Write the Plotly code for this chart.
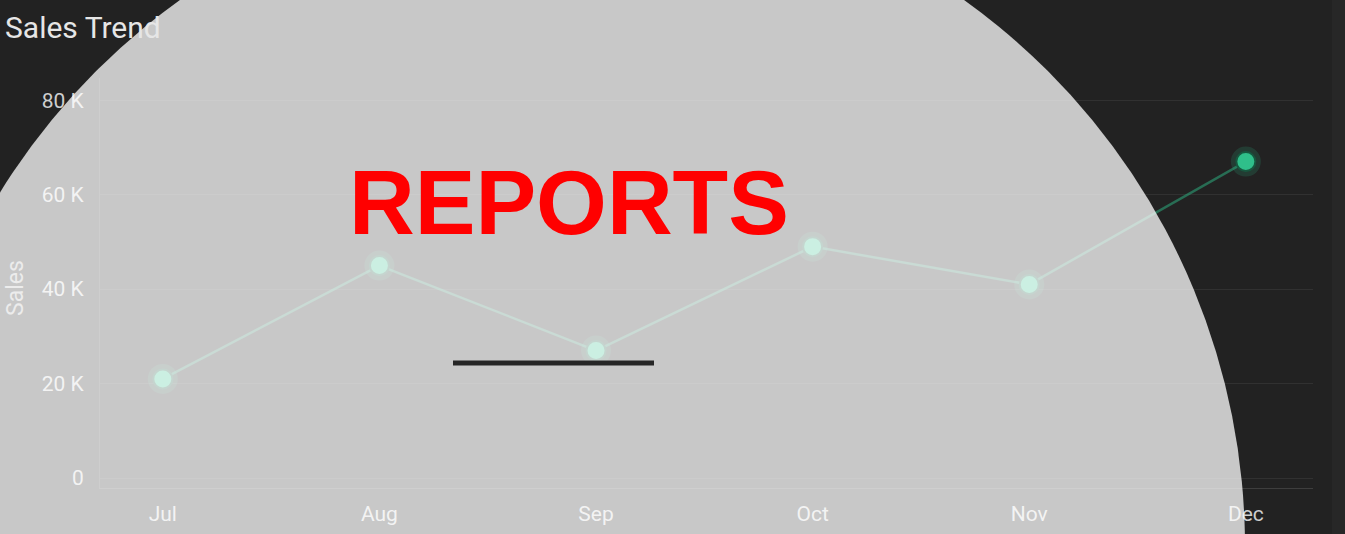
import plotly.graph_objects as go

# ---- data ----
months = ["Jul", "Aug", "Sep", "Oct", "Nov", "Dec"]
sales = [21000, 45000, 27000, 49000, 41000, 67000]
y_tick_vals = [0, 20000, 40000, 60000, 80000]
y_tick_text = ["0", "20 K", "40 K", "60 K", "80 K"]

chart_title = "Sales Trend"
y_title = "Sales"
overlay_text = "REPORTS"

BG = "#222222"
GREEN = "#2fbf8a"

fig = go.Figure()

# halo around points
fig.add_trace(go.Scatter(
    x=months, y=sales, mode="markers",
    marker=dict(size=30, color="rgba(46,184,134,0.18)", line=dict(width=0)),
    hoverinfo="skip", showlegend=False,
))
# main line + points
fig.add_trace(go.Scatter(
    x=months, y=sales, mode="lines+markers",
    line=dict(color="rgba(46,184,134,0.5)", width=2.5),
    marker=dict(size=19, color=GREEN, line=dict(width=2, color="#17573f")),
    hoverinfo="skip", showlegend=False,
))

W, H = 1345, 534
L, R, T, B = 100, 32, 78, 46
pw, ph = W - L - R, H - T - B

def px_x(p):
    return (p - L) / pw

def px_y(p):
    return (H - B - p) / ph

fig.update_layout(
    width=W, height=H, autosize=False,
    margin=dict(l=L, r=R, t=T, b=B, autoexpand=False),
    paper_bgcolor=BG, plot_bgcolor="rgba(0,0,0,0)",
    showlegend=False,
    hovermode=False,
    font=dict(family="Roboto, sans-serif", color="#cfcfcf"),
    xaxis=dict(
        type="category", range=[-0.29, 5.31], automargin=False,
        showgrid=False, zeroline=False,
        showline=True, linecolor="rgba(255,255,255,0.13)", linewidth=1,
        ticks="", ticklabelstandoff=7,
        tickfont=dict(size=21, color="#cfcfcf", family="Roboto"),
    ),
    yaxis=dict(
        range=[-2100, 84700], automargin=False,
        tickvals=y_tick_vals, ticktext=y_tick_text,
        showgrid=True, gridcolor="rgba(255,255,255,0.07)", gridwidth=1,
        zeroline=False,
        showline=True, linecolor="rgba(255,255,255,0.1)", linewidth=1,
        ticks="", ticklabelstandoff=11,
        tickfont=dict(size=21, color="#cfcfcf", family="Roboto"),
    ),
)

shapes = []
# subtle right edge band
shapes.append(dict(type="rect", xref="paper", yref="paper",
                   x0=px_x(1332), x1=px_x(1346), y0=px_y(535), y1=px_y(-1),
                   fillcolor="#272727", line=dict(width=0), layer="below"))
# big light circle overlay
cx, cy, r = 572, 547, 673
shapes.append(dict(type="circle", xref="paper", yref="paper",
                   xsizemode="pixel", ysizemode="pixel",
                   xanchor=0, yanchor=0,
                   x0=cx - r - L, x1=cx + r - L,
                   y0=(H - B) - cy - r, y1=(H - B) - cy + r,
                   fillcolor="white", opacity=0.751,
                   line=dict(width=0), layer="above"))
# underline
shapes.append(dict(type="line", xref="paper", yref="paper",
                   x0=px_x(453), x1=px_x(654), y0=px_y(363), y1=px_y(363),
                   line=dict(color="#262626", width=5), layer="above"))
fig.update_layout(shapes=shapes)

fig.add_annotation(text=chart_title, xref="paper", yref="paper",
                   x=px_x(3), y=px_y(28), xanchor="left", yanchor="middle",
                   showarrow=False,
                   font=dict(size=30, color="#e6e6e6", family="Roboto"))
fig.add_annotation(text=y_title, xref="paper", yref="paper",
                   x=px_x(15), y=px_y(288), xanchor="center", yanchor="middle",
                   textangle=-90, showarrow=False,
                   font=dict(size=23, color="#ececec", family="Roboto"))
fig.add_annotation(text="<b>" + overlay_text + "</b>", xref="paper", yref="paper",
                   x=px_x(569), y=px_y(202), xanchor="center", yanchor="middle",
                   showarrow=False,
                   font=dict(size=91, color="#ff0000",
                             family="Liberation Sans, Arial, sans-serif"))

fig.write_html(
    "out.html",
    config={"displayModeBar": False},
    post_script="document.body.style.margin='0';document.body.style.overflow='hidden';",
)
